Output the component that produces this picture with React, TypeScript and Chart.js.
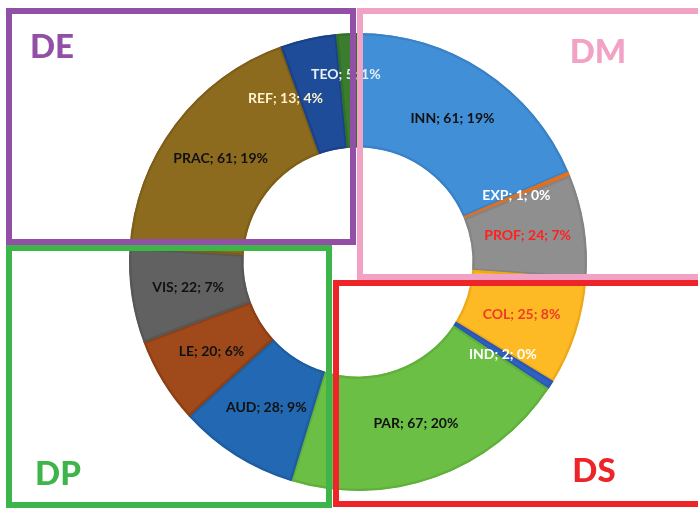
import React, { useEffect, useRef } from "react";
import { Chart, registerables } from "chart.js";

Chart.register(...registerables);

const categories = ["INN", "EXP", "PROF", "COL", "IND", "PAR", "AUD", "LE", "VIS", "PRAC", "REF", "TEO"];
const counts = [61, 1, 24, 25, 2, 67, 28, 20, 22, 61, 13, 5];
const percentLabels = ["19%", "0%", "7%", "8%", "0%", "20%", "9%", "6%", "7%", "19%", "4%", "1%"];
const groupNames = ["DE", "DM", "DP", "DS"];

const fillColors = ["#418FD6", "#ED7D31", "#8F8F8F", "#FDBA25", "#2F62C0", "#6CBF45", "#2268B2", "#A04A1C", "#616161", "#8C6A1E", "#1F4C98", "#3A7D2E"];
const edgeColors = ["#3A82C6", "#E07020", "#848484", "#EDA91A", "#2A58B0", "#60B03C", "#1D5DA0", "#8E3F14", "#575757", "#7E5F18", "#1A4288", "#336F28"];
const textColors = ["#111111", "#FFFFFF", "#FF2020", "#EE3A2A", "#FFFFFF", "#111111", "#111111", "#111111", "#111111", "#111111", "#FFF2CC", "#E8EEF8"];
const groupColors = ["#9150A5", "#F2A2C4", "#3DB54A", "#EE2528"];

const labelPlugin = {
  id: "sliceLabels",
  afterDatasetsDraw(chart: any) {
    const ctx = chart.ctx;
    const meta = chart.getDatasetMeta(0);
    const shift: Record<number, [number, number]> = { 10: [-35, 4], 11: [-4, -16] };
    ctx.save();
    ctx.font = "bold 14px Lato, 'Open Sans', sans-serif";
    ctx.textAlign = "center";
    ctx.textBaseline = "middle";
    meta.data.forEach((arc: any, i: number) => {
      const p = arc.getProps(["startAngle", "endAngle", "innerRadius", "outerRadius", "x", "y"], true);
      const mid = (p.startAngle + p.endAngle) / 2;
      const r = (p.innerRadius + p.outerRadius) / 2;
      const s = shift[i] || [0, 0];
      const x = p.x + Math.cos(mid) * r + s[0];
      const y = p.y + Math.sin(mid) * r + s[1];
      ctx.fillStyle = textColors[i];
      ctx.fillText(`${categories[i]}; ${counts[i]}; ${percentLabels[i]}`, x, y);
    });
    ctx.restore();
  },
};

const boxesPlugin = {
  id: "groupBoxes",
  afterDraw(chart: any) {
    const ctx = chart.ctx;
    const boxes = [
      { x: 9, y: 11, w: 344, h: 231, tx: 52, ty: 47 },
      { x: 360, y: 11, w: 350, h: 266, tx: 598, ty: 52 },
      { x: 9, y: 248, w: 320, h: 257, tx: 58, ty: 474 },
      { x: 336, y: 283, w: 370, h: 221, tx: 594, ty: 471 },
    ];
    ctx.save();
    boxes.forEach((b, i) => {
      ctx.strokeStyle = groupColors[i];
      ctx.lineWidth = 6;
      ctx.strokeRect(b.x, b.y, b.w, b.h);
    });
    ctx.font = "900 33px Lato, 'Open Sans', sans-serif";
    ctx.textAlign = "center";
    ctx.textBaseline = "middle";
    boxes.forEach((b, i) => {
      ctx.fillStyle = groupColors[i];
      ctx.fillText(groupNames[i], b.tx, b.ty);
    });
    ctx.restore();
  },
};

export default function App() {
  const ref = useRef<HTMLCanvasElement | null>(null);
  useEffect(() => {
    if (!ref.current) return;
    const chart = new Chart(ref.current, {
      type: "doughnut",
      data: {
        labels: categories,
        datasets: [
          {
            data: counts,
            backgroundColor: fillColors,
            borderColor: edgeColors,
            borderWidth: 2,
            borderAlign: "inner",
          } as any,
        ],
      },
      options: {
        responsive: false,
        animation: false,
        radius: 229,
        cutout: 114,
        layout: { padding: { left: 130, right: 112, top: 33, bottom: 17 } },
        plugins: { legend: { display: false }, tooltip: { enabled: false } },
      } as any,
      plugins: [labelPlugin, boxesPlugin],
    });
    return () => chart.destroy();
  }, []);
  return (
    <div style={{ position: "fixed", left: 0, top: 0, width: 698, height: 508, background: "#fff" }}>
      <canvas ref={ref} width={698} height={508} style={{ display: "block" }} />
    </div>
  );
}
